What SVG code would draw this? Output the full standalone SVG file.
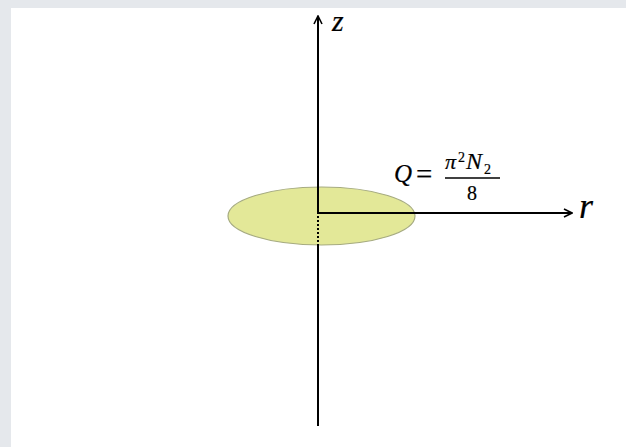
<svg xmlns="http://www.w3.org/2000/svg" width="626" height="447" viewBox="0 0 626 447">
<defs>
<style>
.ax{stroke:#000;stroke-width:2;fill:none}
</style>
<marker id="ah" viewBox="0 0 10 10" refX="9" refY="5" markerWidth="5" markerHeight="5" orient="auto" markerUnits="strokeWidth">
<path d="M1,1 L9,5 L1,9" fill="none" stroke="#000" stroke-width="1.6"/>
</marker>
</defs>
<rect x="0" y="0" width="626" height="447" fill="#e5e8ec"/>
<rect x="11" y="8" width="615" height="439" fill="#ffffff"/>
<g id="disk">
<ellipse cx="321.5" cy="216" rx="93.5" ry="29" fill="#e3e898" stroke="#a6ab80" stroke-width="1.2"/>
</g>
<g id="connectors">
<line class="ax" x1="318" y1="213" x2="318" y2="16" marker-end="url(#ah)"/>
<line class="ax" x1="318" y1="216" x2="318" y2="245" stroke-dasharray="2,2"/>
<line class="ax" x1="318" y1="245" x2="318" y2="426"/>
<line class="ax" x1="317" y1="213" x2="572" y2="213" marker-end="url(#ah)"/>
</g>
<g id="labels" fill="#000" stroke="#000" stroke-width="0.2">
<text x="332" y="31" font-size="30" font-family="Liberation Serif" font-style="italic">z</text>
<text x="579" y="218" font-size="36" font-family="Liberation Serif" font-style="italic">r</text>
<text x="394" y="182" font-size="25" font-family="Liberation Serif" font-style="italic">Q</text>
<text x="416" y="184" font-size="29" font-family="Liberation Serif">=</text>
<text x="445" y="169" font-size="22" font-family="Liberation Serif" font-style="italic">π</text>
<text x="458" y="162" font-size="14" font-family="Liberation Serif">2</text>
<text x="466" y="169" font-size="24" font-family="Liberation Serif" font-style="italic">N</text>
<text x="484" y="174" font-size="14" font-family="Liberation Serif">2</text>
<line x1="445" y1="178" x2="500" y2="178" stroke-width="1.3"/>
<text x="467" y="200" font-size="20" font-family="Liberation Serif">8</text>
</g>
</svg>
